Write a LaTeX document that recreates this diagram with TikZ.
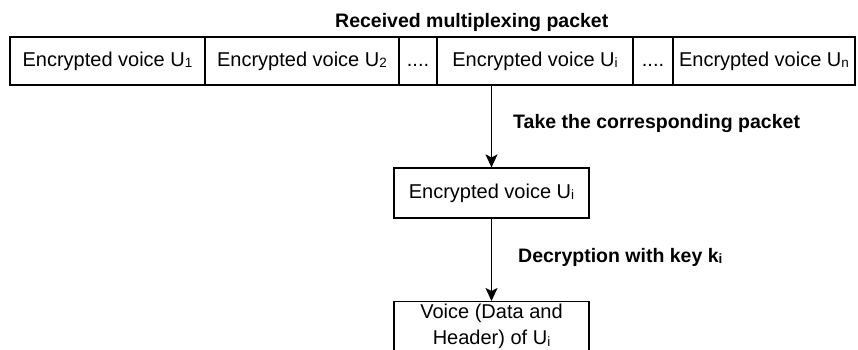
\documentclass[tikz,border=0pt]{standalone}
\usepackage{fontspec}
\setmainfont{Liberation Sans}
\usetikzlibrary{arrows.meta}
\newcommand{\reg}{\fontsize{20}{26}\selectfont}
\newcommand{\bld}{\fontsize{19.5}{24}\selectfont\bfseries}
\newcommand{\sbs}[1]{\raisebox{-1.5pt}{\fontsize{13.5}{13.5}\selectfont #1}}
\begin{document}
\begin{tikzpicture}[x=1pt,y=-1pt,
  cell/.style={draw, line width=1.2pt, minimum height=48pt, inner sep=0pt, font=\reg, text height=14.5pt, text depth=4.2pt},
  box/.style={draw, line width=1.2pt, minimum width=195pt, minimum height=50pt, inner sep=0pt, font=\reg, align=center},
  lbl/.style={anchor=base west, inner sep=0pt, font=\bld},
  arr/.style={line width=1.2pt, -{Stealth[length=13pt,width=12pt,inset=3pt]}}]
\useasboundingbox (0,0) rectangle (858,349);
\clip (0,0) rectangle (858,349);
\node[lbl] (title) at (335,27) {Received multiplexing packet};
\node[cell, minimum width=195pt] (c1) at (107.5,61) {Encrypted voice U\sbs{1}};
\node[cell, minimum width=194pt] (c2) at (302,61) {Encrypted voice U\sbs{2}};
\node[cell, minimum width=38pt] (c3) at (418,61) {....};
\node[cell, minimum width=196pt] (c4) at (535,61) {Encrypted voice U\sbs{i}};
\node[cell, minimum width=40pt] (c5) at (653,61) {....};
\node[cell, minimum width=182pt] (c6) at (764,61) {Encrypted voice U\sbs{n}};
\node[box] (mid) at (491.5,193) {Encrypted voice U\sbs{i}};
\node[box, anchor=north] (out) at (491.5,301) {Voice (Data and\\Header) of U\sbs{i}};
\draw[arr] (mid.north |- c4.south) -- (mid.north);
\draw[arr] (mid.south) -- (out.north);
\node[lbl] (take) at (513,128) {Take the corresponding packet};
\node[lbl] (dec) at (518,262) {Decryption with key k\sbs{i}};
\end{tikzpicture}
\end{document}
